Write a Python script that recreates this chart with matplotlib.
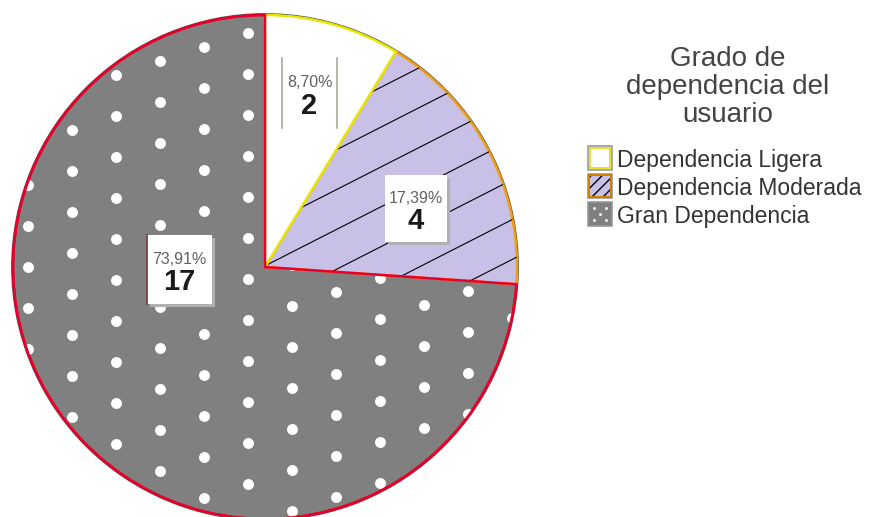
import numpy as np
import matplotlib.pyplot as plt
from matplotlib.patches import Rectangle, Circle, Wedge
from matplotlib.collections import LineCollection

plt.rcParams['font.family'] = ['Liberation Sans', 'DejaVu Sans']

categorias = ['Dependencia Ligera', 'Dependencia Moderada', 'Gran Dependencia']
frecuencias = [2, 4, 17]
titulo = 'Grado de\ndependencia del\nusuario'

W, H = 871, 517
CX, CY, R = 265, 267, 252


def Y(py):
    # pixel row (top-down) -> data y
    return H - py


def main():
    fig = plt.figure(figsize=(W / 100, H / 100), dpi=100)
    ax = fig.add_axes([0, 0, 1, 1])

    colores = ['white', '#c8c0e6', '#808080']
    bordes = ['#e6e600', '#f0a010', '#e8002a']

    # thin dark rim under the coloured edges
    ax.add_patch(Circle((CX, Y(CY)), R + 1.2, fill=False, edgecolor='#555555',
                        lw=1.0, zorder=0))

    wedges, _ = ax.pie(frecuencias, colors=colores, startangle=90,
                       counterclock=False, center=(CX, Y(CY)), radius=R,
                       frame=True, wedgeprops={'linewidth': 0})
    for w, b, z in zip(wedges, bordes, [3, 2, 1.5]):
        w.set_edgecolor(b)
        w.set_linewidth(1.8)
        w.set_zorder(z)
    # the large slice gets its outline redrawn on top of its dots
    g = wedges[2]
    ax.add_patch(Wedge(g.center, g.r, g.theta1, g.theta2, fill=False,
                       edgecolor=bordes[2], lw=1.8, zorder=4))

    # diagonal hatching of the moderate slice
    ang = np.deg2rad(27)
    d = np.array([np.cos(ang), np.sin(ang)])
    n = np.array([-np.sin(ang), np.cos(ang)])
    segs = []
    for k in range(-12, 13):
        p0 = np.array([CX, Y(CY)]) + n * (k * 35.5 + 1)
        segs.append([p0 - d * 600, p0 + d * 600])
    lc = LineCollection(segs, colors='black', linewidths=0.8, zorder=2.5)
    ax.add_collection(lc)
    lc.set_clip_path(wedges[1])

    # white dots of the large slice
    pts = []
    for i in range(-12, 12):
        for j in range(-20, 20):
            px = 248 + 44 * i
            py = 33 - 14 * i + 41 * j
            pts.append((px, Y(py)))
    pts = np.array(pts)
    sc = ax.scatter(pts[:, 0], pts[:, 1], s=62, color='white', lw=0, zorder=1.6)
    sc.set_clip_path(g)

    # value boxes
    total = sum(frecuencias)
    cajas = [(282, 58, 55, 70), (385, 175, 62, 67), (147, 235, 65, 69)]
    for k, (v, (bx, by, bw, bh)) in enumerate(zip(frecuencias, cajas)):
        if k == 0:
            ax.plot([bx, bx], [Y(by), Y(by + bh)], color='#a8a898', lw=1.2, zorder=6)
            ax.plot([bx + bw, bx + bw], [Y(by), Y(by + bh)], color='#a8a898', lw=1.2, zorder=6)
        else:
            ax.add_patch(Rectangle((bx + 3, Y(by + bh + 3)), bw, bh,
                                   facecolor='#b0b0b0', lw=0, zorder=5))
            ax.add_patch(Rectangle((bx, Y(by + bh)), bw, bh,
                                   facecolor='white', lw=0, zorder=6))
            if k == 2:
                ax.plot([bx, bx], [Y(by), Y(by + bh)], color='#7a3a3a', lw=1.2, zorder=7)
        pct = f'{100 * v / total:.2f}%'.replace('.', ',')
        mx = bx + bw / 2
        ax.text(mx, Y(by + 0.35 * bh), pct, ha='center', va='center',
                fontsize=11.5, color='#606060', zorder=8)
        ax.text(mx, Y(by + 0.68 * bh), str(v), ha='center', va='center',
                fontsize=21, fontweight='bold', color='#1a1a1a', zorder=8)

    # legend
    ax.text(728, Y(87), titulo, ha='center', va='center', fontsize=20,
            color='#444444', linespacing=1.1, multialignment='center')
    for k, cat in enumerate(categorias):
        sy = 146 + 28 * k
        ax.add_patch(Rectangle((588, Y(sy + 24)), 24, 24, facecolor=colores[k],
                               edgecolor='#999999', lw=1.2, zorder=5))
        if k == 0:
            ax.add_patch(Rectangle((590, Y(sy + 22)), 20, 20, fill=False,
                                   edgecolor='#dede00', lw=1.2, zorder=6))
        elif k == 1:
            ax.add_patch(Rectangle((589, Y(sy + 23)), 22, 22, facecolor='none',
                                   edgecolor='black', hatch='///', lw=0, zorder=6))
            ax.add_patch(Rectangle((589, Y(sy + 23)), 22, 22, fill=False,
                                   edgecolor='#d08000', lw=1.4, zorder=7))
        else:
            dx = [594, 606, 600, 594, 606]
            dy = [sy + 6, sy + 6, sy + 12, sy + 18, sy + 18]
            ax.scatter(dx, [Y(v) for v in dy], s=5, color='#e8e8e8', lw=0, zorder=6)
        ax.text(617, Y(sy + 15), cat, ha='left', va='center', fontsize=16.5,
                color='#333333')

    ax.set_xlim(0, W)
    ax.set_ylim(0, H)
    ax.set_axis_off()
    fig.savefig('out.png', dpi=100)


if __name__ == '__main__':
    main()
